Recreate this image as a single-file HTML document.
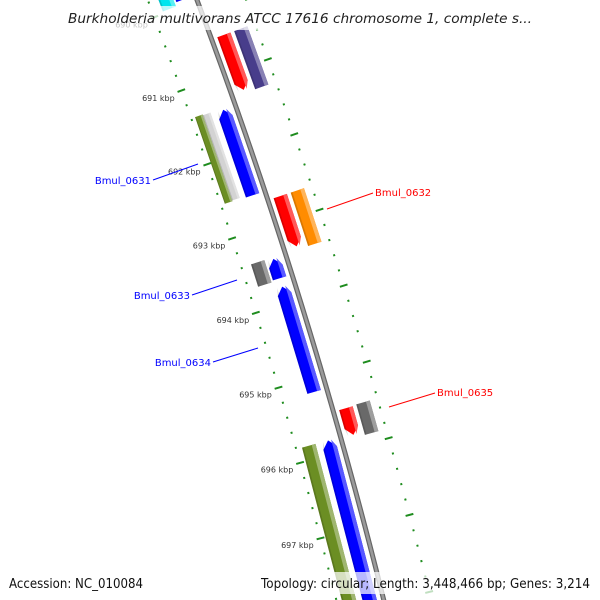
<!DOCTYPE html>
<html><head><meta charset="utf-8"><style>
html,body{margin:0;padding:0;background:#fff;overflow:hidden;}
svg{display:block;font-family:"DejaVu Sans","Liberation Sans",sans-serif;}
</style></head><body>
<svg id="map" width="600" height="600" viewBox="0 0 600 600" xmlns="http://www.w3.org/2000/svg">
<rect width="600" height="600" fill="#fff"/>
<g id="ticks"></g>
<g id="backbone"></g>
<g id="genes"></g>
<g id="labels">
  <line x1="153" y1="180" x2="198" y2="164" stroke="#0000ff" stroke-width="1"/>
  <text x="151" y="184" text-anchor="end" font-size="10" fill="#0000ff">Bmul_0631</text>
  <line x1="327" y1="209" x2="373" y2="193" stroke="#ff0000" stroke-width="1"/>
  <text x="375" y="196" font-size="10" fill="#ff0000">Bmul_0632</text>
  <line x1="192" y1="295" x2="237" y2="280" stroke="#0000ff" stroke-width="1"/>
  <text x="190" y="299" text-anchor="end" font-size="10" fill="#0000ff">Bmul_0633</text>
  <line x1="213" y1="362" x2="258" y2="348" stroke="#0000ff" stroke-width="1"/>
  <text x="211" y="366" text-anchor="end" font-size="10" fill="#0000ff">Bmul_0634</text>
  <line x1="389" y1="407" x2="435" y2="393" stroke="#ff0000" stroke-width="1"/>
  <text x="437" y="396" font-size="10" fill="#ff0000">Bmul_0635</text>
</g>
<rect x="62" y="6" width="476" height="24" fill="#fff" fill-opacity="0.72"/>
<text x="300" y="23" text-anchor="middle" font-size="13" font-style="italic" fill="#222" textLength="464" lengthAdjust="spacingAndGlyphs">Burkholderia multivorans ATCC 17616 chromosome 1, complete s...</text>
<rect x="4" y="572" width="144" height="22" fill="#fff" fill-opacity="0.72"/>
<text x="9" y="588" font-size="13" fill="#111" textLength="134" lengthAdjust="spacingAndGlyphs">Accession: NC_010084</text>
<rect x="256" y="572" width="340" height="22" fill="#fff" fill-opacity="0.72"/>
<text x="261" y="588" font-size="13" fill="#111" textLength="329" lengthAdjust="spacingAndGlyphs">Topology: circular; Length: 3,448,466 bp; Genes: 3,214</text>
</svg>
<script>
// ---- data ----
const geneStart = [689.42, 689.72, 690.52, 690.52, 691.41, 691.38, 691.39, 692.68, 692.68, 693.39, 693.41, 693.78, 695.49, 695.48, 695.82, 695.82];
const geneEnd   = [689.97, 689.92, 691.26, 691.30, 692.56, 692.55, 692.54, 693.35, 693.39, 693.69, 693.67, 695.18, 695.84, 695.88, 698.5, 698.5];
const geneTrack = [-29, -13, 13, 31, -13, -38, -30, 13, 31, -29, -13, -13, 13, 31, -33, -13];
const geneWidth = [14, 14, 14, 14, 14, 8, 8, 14, 14, 14, 14, 14, 14, 14, 14, 14];
const geneColor = ["#00e5ee","#0000ff","#ff0000","#483d8b","#0000ff","#6b8e23","#d3d3d3","#ff0000","#ff8c00","#696969","#0000ff","#0000ff","#ff0000","#696969","#6b8e23","#0000ff"];
const geneArrow = [0, -1, 1, 0, -1, 0, 0, 1, 0, 0, -1, -1, 1, 0, 0, -1];
const tickStart = 688.0, tickEnd = 699.0, tickStep = 0.2;
const tickLabelKbp = [689, 690, 691, 692, 693, 694, 695, 696, 697, 698];

// ---- geometry ----
const P1=[197,0],P2=[300,300],P3=[380,585];
function circ(a,b,c){
  const d=2*(a[0]*(b[1]-c[1])+b[0]*(c[1]-a[1])+c[0]*(a[1]-b[1]));
  const s=p=>p[0]*p[0]+p[1]*p[1];
  const ux=(s(a)*(b[1]-c[1])+s(b)*(c[1]-a[1])+s(c)*(a[1]-b[1]))/d;
  const uy=(s(a)*(c[0]-b[0])+s(b)*(a[0]-c[0])+s(c)*(b[0]-a[0]))/d;
  return [ux,uy,Math.hypot(a[0]-ux,a[1]-uy)];
}
const [CX,CY,R]=circ(P1,P2,P3);
const A691=Math.atan2(91-CY,180-CX), A697=Math.atan2(538-CY,321.7-CX);
const DA=(A697-A691)/6;
function ang(k){return A691+(k-691)*DA;}
function pt(k,u){const a=ang(k),r=R+u;return [CX+r*Math.cos(a),CY+r*Math.sin(a)];}
const NS="http://www.w3.org/2000/svg";
function mk(tag,attrs,parent){const e=document.createElementNS(NS,tag);for(const k in attrs)e.setAttribute(k,attrs[k]);parent.appendChild(e);return e;}
function poly(list){return list.map(p=>p[0].toFixed(2)+","+p[1].toFixed(2)).join(" ");}
function lighten(hex,f){const n=parseInt(hex.slice(1),16);let r=n>>16,g=(n>>8)&255,b=n&255;r=Math.round(r+(255-r)*f);g=Math.round(g+(255-g)*f);b=Math.round(b+(255-b)*f);return "rgb("+r+","+g+","+b+")";}

// ---- ticks ----
const tg=document.getElementById('ticks');
const nT=Math.round((tickEnd-tickStart)/tickStep);
for(let i=0;i<=nT;i++){
  const k=tickStart+i*tickStep;
  const major=Math.abs(k-Math.round(k))<1e-6;
  [-1,1].forEach(side=>{
    const u1=side*(major?42:45), u2=side*(major?50:47);
    const a=pt(k,u1),b=pt(k,u2);
    const l=mk('line',{x1:a[0],y1:a[1],x2:b[0],y2:b[1],stroke:"#1e8c1e","stroke-width":2},tg);
    
    
  });
}
tickLabelKbp.forEach(k=>{
  const p=pt(k,-53);
  if(p[1]>570||p[1]<-10) return;
  const t=mk('text',{x:p[0].toFixed(1),y:(p[1]+8).toFixed(1),"text-anchor":"end","font-size":8,fill:"#333"},tg);
  
  
  t.textContent=k+" kbp";
});

// ---- backbone ----
const bg=document.getElementById('backbone');
const bpts=[];for(let k=688;k<=699.001;k+=0.1)bpts.push(pt(k,0));
const b1=mk('polyline',{points:poly(bpts),fill:"none",stroke:"#666","stroke-width":5},bg);


const b2=mk('polyline',{points:poly(bpts),fill:"none",stroke:"#9a9a9a","stroke-width":2.6},bg);



// ---- genes ----
const gg=document.getElementById('genes');
const HEAD=0.1;
for(let i=0;i<geneStart.length;i++){
  const s=geneStart[i],e=geneEnd[i],u=geneTrack[i],w=geneWidth[i],dir=geneArrow[i];
  const lo=u-w/2,hi=u+w/2;
  function shape(l,h){
    const tipU=Math.min(Math.max(u,l),h);
    let pts;
    if(dir===1){
      const hs=Math.max(s,e-HEAD);
      pts=[pt(s,l),pt(hs,l),pt(e,tipU),pt(hs,h),pt(s,h)];
    }else if(dir===-1){
      const hs=Math.min(e,s+HEAD);
      pts=[pt(hs,l),pt(e,l),pt(e,h),pt(hs,h),pt(s,tipU)];
    }else{
      pts=[pt(s,l),pt(e,l),pt(e,h),pt(s,h)];
    }
    return poly(pts);
  }
  const g=mk('g',{},gg);
  
  
  const m=mk('polygon',{points:shape(lo,hi),fill:geneColor[i]},g);
  
  
  const hl=mk('polygon',{points:shape(hi-w*0.28,hi),fill:lighten(geneColor[i],0.35)},g);
  
  
  const sh=mk('polygon',{points:shape(lo,lo+w*0.12),fill:"#000","fill-opacity":0.15},g);
  
  
}
</script>
</body></html>
